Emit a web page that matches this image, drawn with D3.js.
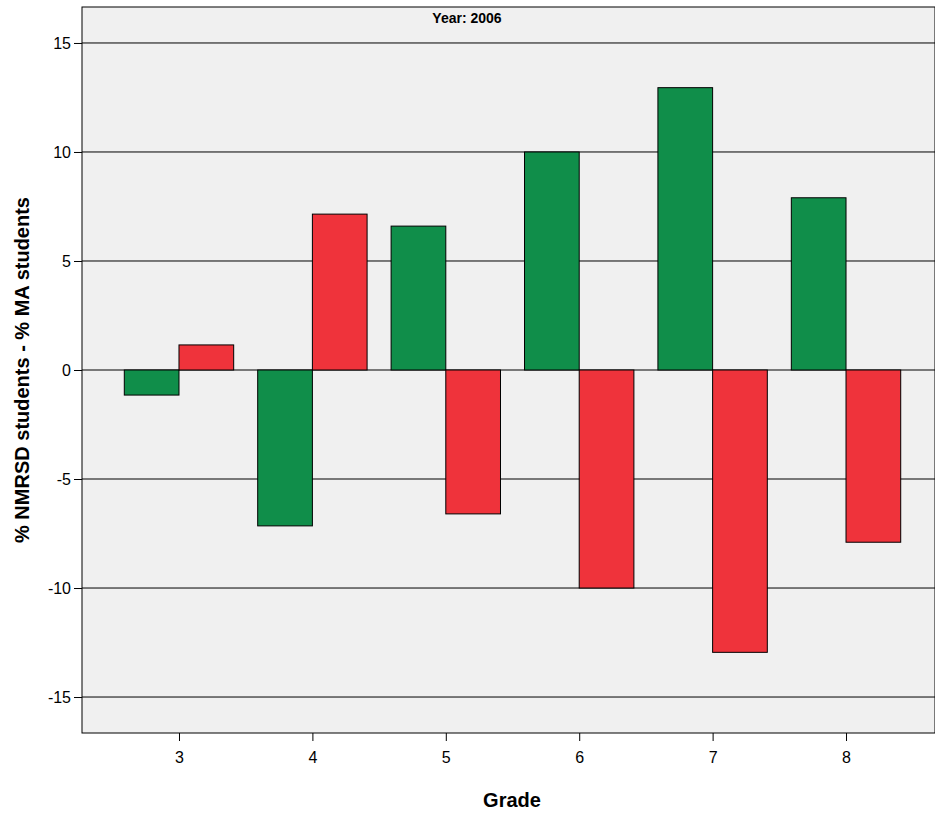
<!DOCTYPE html>
<html><head><meta charset="utf-8">
<script src="https://cdn.jsdelivr.net/npm/d3@7"></script>
<style>body{margin:0;background:#fff}</style></head>
<body><svg id="c" width="935" height="816"></svg>
<script>
const grades=[3,4,5,6,7,8];
const green=[-1.15,-7.15,6.6,10,12.95,7.9];
const red=[1.15,7.15,-6.6,-10,-12.95,-7.9];
const yTicks=[-15,-10,-5,0,5,10,15];
const svg=d3.select("#c");
const L=82,R=935,T=7,B=733;
const x=d3.scaleLinear().domain([2.273,8.667]).range([L,R]);
const y=d3.scaleLinear().domain([-16.65,16.65]).range([B,T]);
const font="Liberation Sans, Arial, sans-serif";
svg.append("rect").attr("x",L).attr("y",T).attr("width",R-L).attr("height",B-T).attr("fill","#f0f0f0").attr("stroke","#000");
svg.selectAll(".g").data(yTicks).enter().append("line").attr("x1",L).attr("x2",R).attr("y1",d=>y(d)).attr("y2",d=>y(d)).attr("stroke","#000").attr("stroke-width",1);
const bw=x(3.41)-x(3);
grades.forEach((g,i)=>{
 const v=green[i];
 svg.append("rect").attr("x",x(g)-bw).attr("width",bw).attr("y",y(Math.max(0,v))).attr("height",Math.abs(y(v)-y(0))).attr("fill","#108e4a").attr("stroke","#000");
 const w=red[i];
 svg.append("rect").attr("x",x(g)).attr("width",bw).attr("y",y(Math.max(0,w))).attr("height",Math.abs(y(w)-y(0))).attr("fill","#ef333b").attr("stroke","#000");
});
const fmt=d=>String(d);
const ya=svg.append("g").attr("transform",`translate(${L},0)`).call(d3.axisLeft(y).tickValues(yTicks).tickSize(8).tickFormat(fmt));
const xa=svg.append("g").attr("transform",`translate(0,${B})`).call(d3.axisBottom(x).tickValues(grades).tickSize(8).tickFormat(fmt));
[ya,xa].forEach(a=>{a.select(".domain").remove();a.selectAll("text").attr("font-family",font).attr("font-size",16).attr("fill","#000");a.selectAll("line").attr("stroke","#000");});
xa.selectAll("text").attr("dy","1.2em");
svg.append("text").attr("x",467).attr("y",23).attr("text-anchor","middle").attr("font-family",font).attr("font-weight","bold").attr("font-size",14).text("Year: 2006");
svg.append("text").attr("x",512).attr("y",807).attr("text-anchor","middle").attr("font-family",font).attr("font-weight","bold").attr("font-size",20).text("Grade");
svg.append("text").attr("transform","translate(29,370) rotate(-90)").attr("text-anchor","middle").attr("font-family",font).attr("font-weight","bold").attr("font-size",20).text("% NMRSD students - % MA students");
</script></body></html>
